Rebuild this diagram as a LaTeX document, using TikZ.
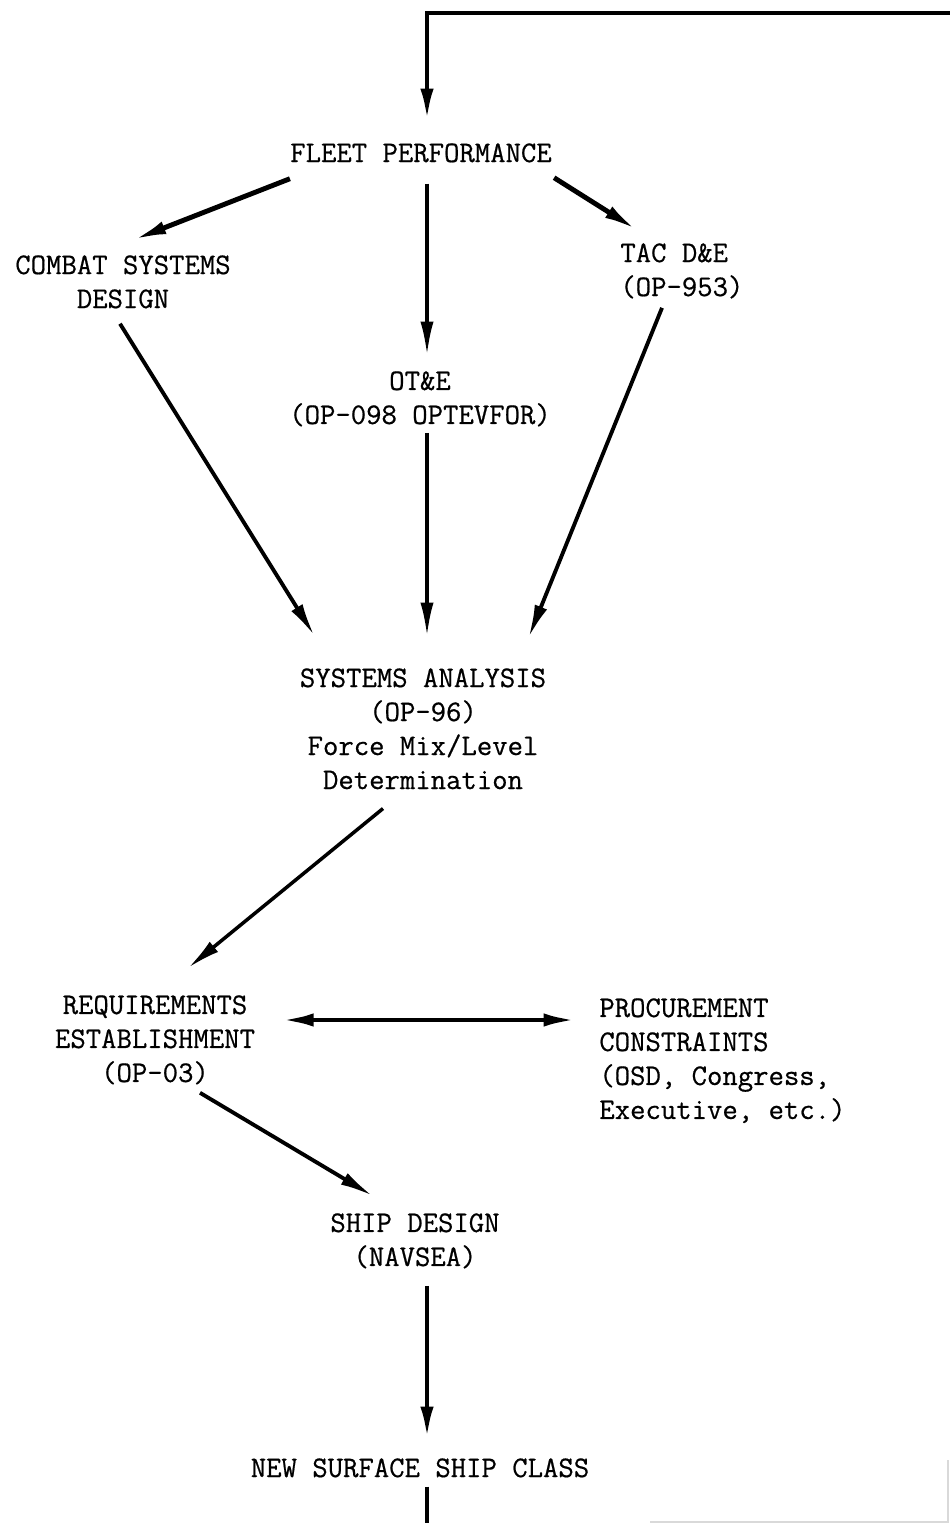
\documentclass[tikz,border=0pt]{standalone}
\usepackage{fontspec}
\newfontfamily\typefont{Latin Modern Mono}[FakeBold=0.6]
\usetikzlibrary{arrows.meta}
\begin{document}
\begin{tikzpicture}[x=0.02cm, y=-0.02cm]
    \tikzstyle{label_style}=[inner sep=0pt, align=center, font=\fontsize{17}{19.35}\selectfont\typefont]
    \tikzstyle{arrow_style}=[-{Latex[length=19pt, width=7.5pt]}, line width=2.2pt]
    \tikzstyle{line_style}=[line width=2.8pt]
    \useasboundingbox (0,0) rectangle (949,1523);

    % fleet performance
    \draw node at (421, 143) [label_style, anchor=north] (fleet_perf) {FLEET PERFORMANCE};

    % combat systems, ot&e, tac d&e
    \draw node at (123, 255) [label_style, anchor=north] (combat_sys) {COMBAT SYSTEMS\\DESIGN};
    \draw node at (420, 371) [label_style, anchor=north] (ot_e) {OT\&E\\(OP-098 OPTEVFOR)};
    \draw node at (620, 243) [label_style, anchor=north west, align=left] (tac_de) {TAC D\&E\\(OP-953)};

    % systems analysis
    \draw node at (423, 668) [label_style, anchor=north] (sys_analysis) {SYSTEMS ANALYSIS\\(OP-96)\\Force Mix/Level\\Determination};

    % requirements, procurement
    \draw node at (155, 995) [label_style, anchor=north] (requirements) {REQUIREMENTS\\ESTABLISHMENT\\(OP-03)};
    \draw node at (599, 998) [label_style, anchor=north west, align=left] (procurement) {PROCUREMENT\\CONSTRAINTS\\(OSD, Congress,\\Executive, etc.)};

    % ship design
    \draw node at (415, 1213) [label_style, anchor=north] (ship_design) {SHIP DESIGN\\(NAVSEA)};
    \draw node at (420, 1458) [label_style, anchor=north] (new_class) {NEW SURFACE SHIP CLASS};

    % loop ends
    \coordinate (loop_in) at (960, 13);
    \coordinate (loop_out) at (427, 1530);

    % connect: loop -> fleet performance
    \draw[arrow_style, line width=2.8pt] (loop_in) -| ([shift={(6,-21)}]fleet_perf.north);

    % connect: fleet performance -> combat, ot&e, tac
    \path[arrow_style, line width=2.8pt] ([shift={(0,16)}]fleet_perf.south west) edge ([shift={(10,-15)}]combat_sys.north);
    \path[arrow_style, line width=1.8pt] ([shift={(6,21)}]fleet_perf.south) edge ([shift={(7,-16)}]ot_e.north);
    \path[arrow_style, line width=2.8pt] ([shift={(2,15)}]fleet_perf.south east) edge ([shift={(17,-13)}]tac_de.north west);

    % connect: combat, ot&e, tac -> systems analysis
    \path[arrow_style] ([shift={(-3,15)}]combat_sys.south) edge ([shift={(15,-32)}]sys_analysis.north west);
    \path[arrow_style, line width=1.8pt] ([shift={(7,6)}]ot_e.south) edge ([shift={(4,-32)}]sys_analysis.north);
    \path[arrow_style] ([shift={(42,9)}]tac_de.south west) edge ([shift={(-18,-30)}]sys_analysis.north east);

    % connect: systems analysis -> requirements
    \path[arrow_style, line width=2pt] ([shift={(-40,19)}]sys_analysis.south) edge ([shift={(33,-27)}]requirements.north);

    % connect: requirements <-> procurement
    \path[{Latex[length=19pt, width=7.5pt]}-{Latex[length=19pt, width=7.5pt]}, line width=2.8pt] ([shift={(25,25)}]requirements.north east) edge ([shift={(-22,22)}]procurement.north west);

    % connect: requirements -> ship design -> new class
    \path[arrow_style] ([shift={(45,8)}]requirements.south) edge ([shift={(-42,-17)}]ship_design.north);
    \path[arrow_style, line width=2.8pt] ([shift={(12,17)}]ship_design.south) edge ([shift={(7,-18)}]new_class.north);
    \draw[line_style] ([shift={(7,9)}]new_class.south) -- (loop_out);

    % faint page edge
    \coordinate (edge_a) at (650, 1522);
    \coordinate (edge_b) at (948, 1522);
    \coordinate (edge_c) at (948, 1460);
    \draw[black!15, line width=0.6pt] (edge_a) -- (edge_b) -- (edge_c);
\end{tikzpicture}
\end{document}
